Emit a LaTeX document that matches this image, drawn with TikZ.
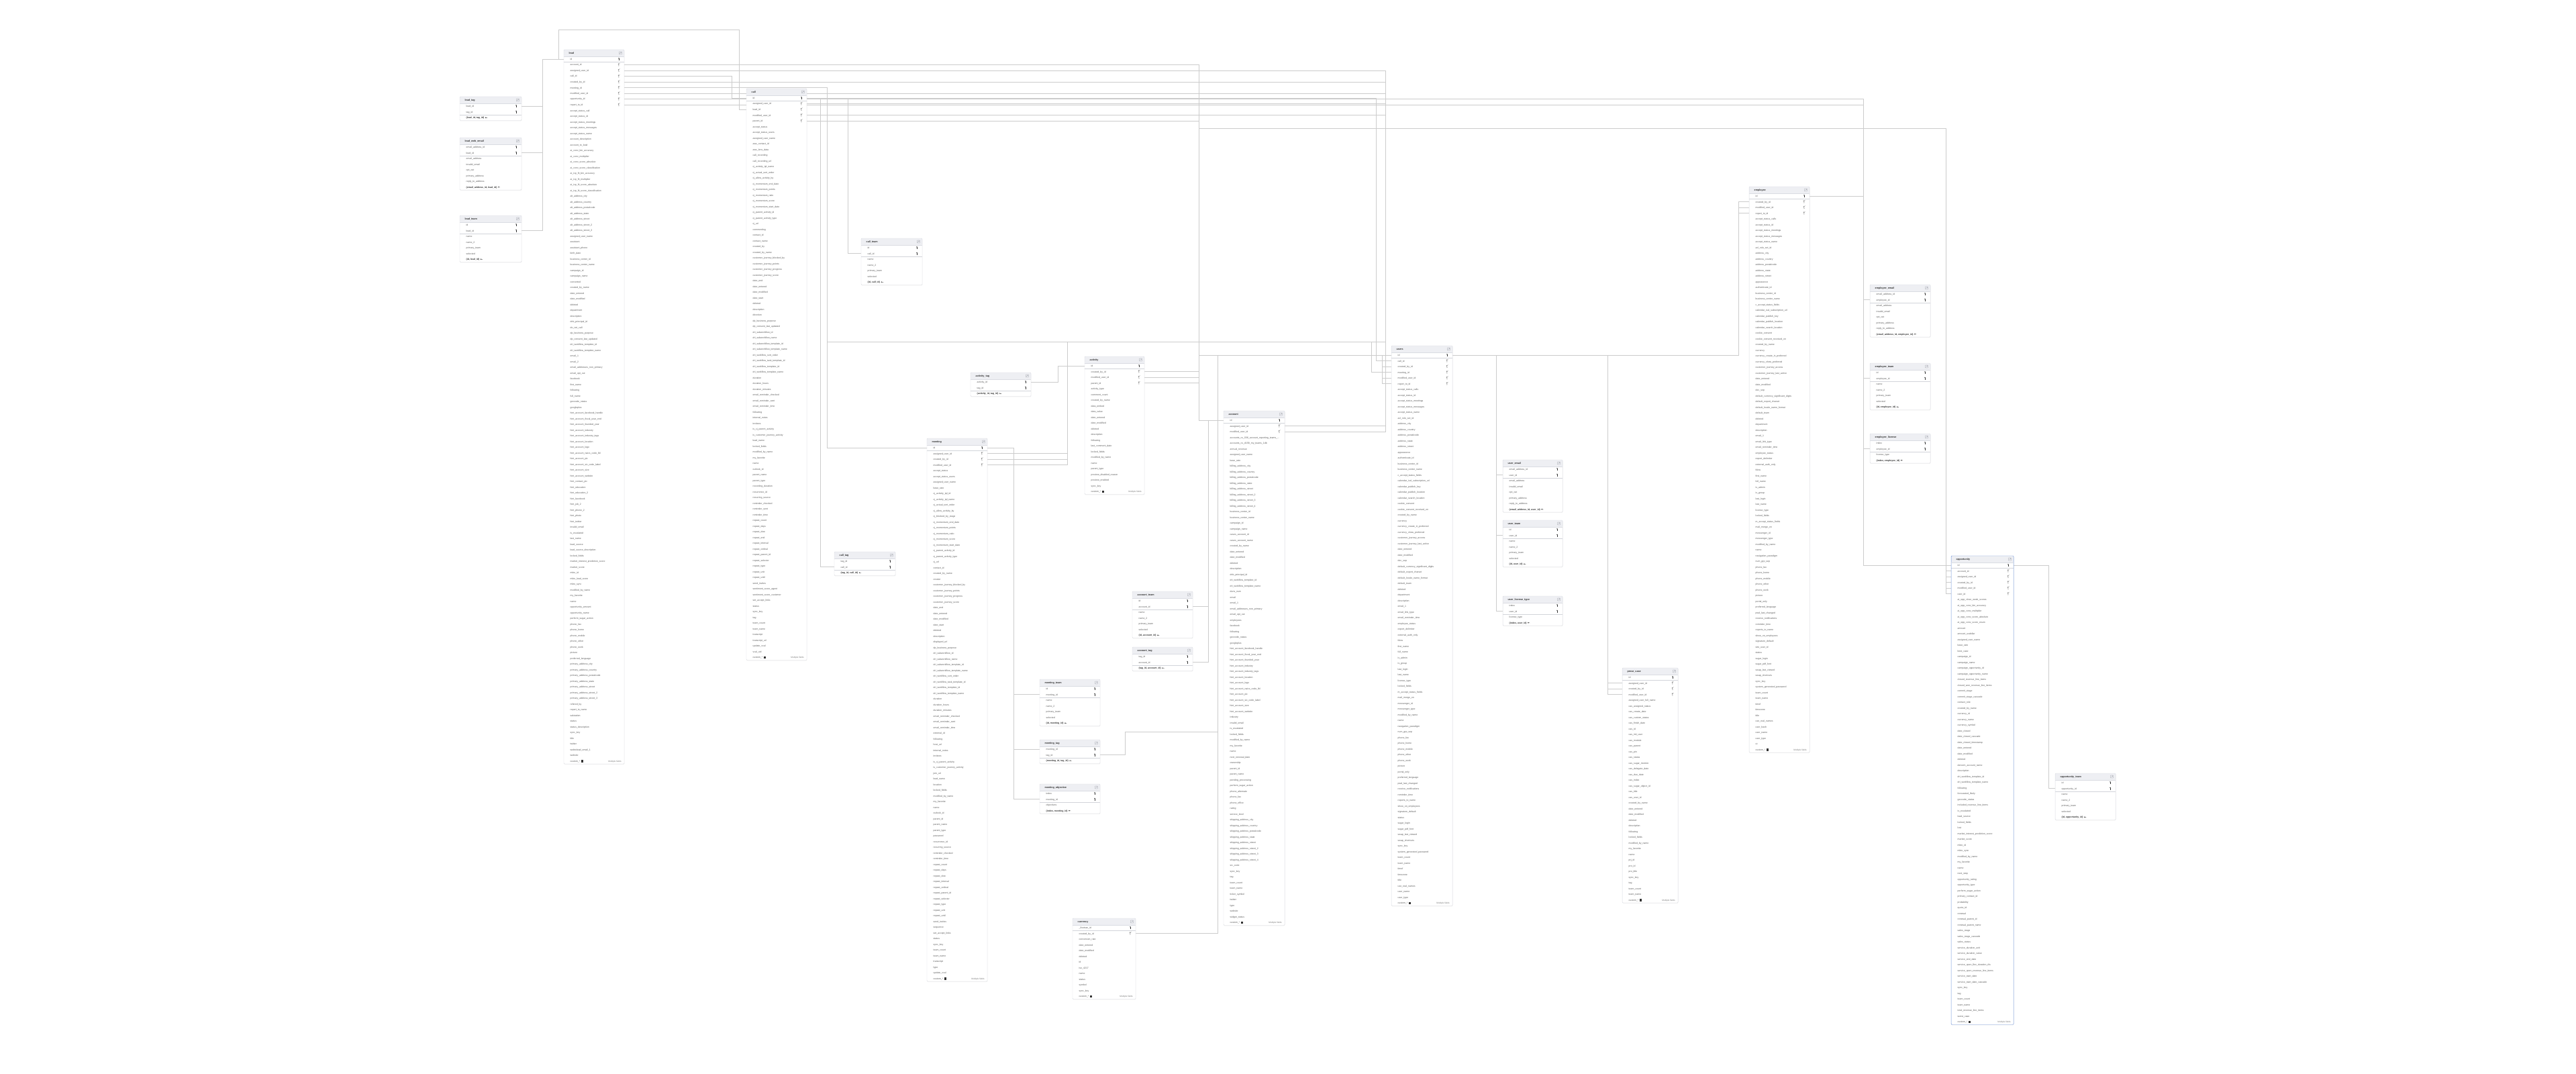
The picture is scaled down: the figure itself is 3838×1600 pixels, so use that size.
\documentclass[tikz,border=0pt]{standalone}
\usepackage{fontspec}
\setmainfont{Liberation Sans}
\usetikzlibrary{shadows,calc}
\pgfdeclarelayer{conn}
\pgfdeclarelayer{background}
\pgfsetlayers{conn,background,main}
\definecolor{hdrfill}{HTML}{EEEFF3}
\definecolor{framec}{HTML}{DADCE2}
\definecolor{txtc}{HTML}{5A5A5A}
\definecolor{ttlc}{HTML}{2E2E2E}
\definecolor{connc}{HTML}{CCCCCC}
\definecolor{sepc}{HTML}{D2D4DA}
\definecolor{keyd}{HTML}{333333}
\definecolor{keyl}{HTML}{777777}
\definecolor{iconc}{HTML}{9A9DA6}
\definecolor{blueb}{HTML}{6E91D8}
\tikzset{
  rowtxt/.style={font=\fontsize{3.5}{4}\selectfont, text=txtc, inner sep=0},
  keytxt/.style={font=\fontsize{3.5}{4}\selectfont\bfseries, text=ttlc, inner sep=0},
  ttltxt/.style={font=\fontsize{3.7}{4}\selectfont\bfseries, text=ttlc, inner sep=0},
  multtxt/.style={font=\fontsize{3.2}{4}\selectfont, text=txtc!80, inner sep=0},
  cn/.style={draw=connc, line width=0.6pt},
}
% ---------- table macros ----------
\newcommand\erBeg[5][90]{% [width]{id}{title}{x}{y}
  \xdef\erW{#1}\xdef\erId{#2}\xdef\erX{#4}\xdef\erY{#5}%
  \fill[hdrfill, rounded corners=1.2pt] (#4,#5+10) -- (#4,#5) -- (#4+#1,#5) -- (#4+#1,#5+10) -- cycle;
  \node[ttltxt, anchor=base west] (#2) at (#4+7.5,#5+6.3) {#3};
  \draw[iconc, line width=0.3pt, rounded corners=0.4pt] (#4+#1-7.6,#5+3) rectangle (#4+#1-3.6,#5+7);
  \draw[iconc, line width=0.25pt] (#4+#1-6.8,#5+6.2) -- (#4+#1-4.4,#5+3.8) (#4+#1-5.6,#5+3.8) -- (#4+#1-4.4,#5+3.8) -- (#4+#1-4.4,#5+5);
  \pgfmathsetmacro\erT{#5+10}\xdef\erC{\erT}%
  \xdef\erN{0}%
}
\newcommand\erBase[2]{%
  \pgfmathtruncatemacro\erT{\erN+1}\xdef\erN{\erT}%
  \coordinate (\erId-\erN-w) at (\erX,\erC+4.25);
  \coordinate (\erId-\erN-e) at (\erX+\erW,\erC+4.25);
  #2%
  \pgfmathsetmacro\erT{\erC+8.5}\xdef\erC{\erT}%
}
\newcommand\erPKicon{%
  \fill[keyd] (\erX+\erW-8,\erC+2.9) circle (0.85);
  \draw[keyd, line width=0.45pt] (\erX+\erW-8,\erC+3.4) -- (\erX+\erW-8,\erC+6.2) (\erX+\erW-8,\erC+5.4) -- (\erX+\erW-7.2,\erC+5.4);}
\newcommand\erFKicon{%
  \draw[keyl, line width=0.3pt] (\erX+\erW-8.3,\erC+2.9) circle (0.75);
  \draw[keyl, line width=0.4pt] (\erX+\erW-8.3,\erC+3.7) -- (\erX+\erW-8.3,\erC+6.2) (\erX+\erW-8.3,\erC+5.4) -- (\erX+\erW-7.5,\erC+5.4)
     (\erX+\erW-7.3,\erC+2.0) -- (\erX+\erW-6.5,\erC+1.6);}
\newcommand\erP[1]{\erBase{#1}{\node[rowtxt, anchor=base west] at (\erX+9.5,\erC+5.5) {#1};\erPKicon}}
\newcommand\erF[1]{\erBase{#1}{\node[rowtxt, anchor=base west] at (\erX+9.5,\erC+5.5) {#1};\erFKicon}}
\newcommand\erR[1]{\erBase{#1}{\node[rowtxt, anchor=base west] at (\erX+9.5,\erC+5.5) {#1};}}
\newcommand\erRs[1]{\foreach \erI in {#1}{\erR{\erI}}}
\newcommand\erK[1]{\erBase{#1}{\node[keytxt, anchor=base west] (erkx) at (\erX+9.5,\erC+5.5) {#1};
   \draw[keyd, line width=0.3pt] ($(erkx.base east)+(2.2,-1.3)$) circle (0.6) ($(erkx.base east)+(2.8,-1.3)$) -- ++(1.4,0) -- ++(0,0.6);}}
\newcommand\erM{\erBase{}{\node[rowtxt, anchor=base west] (erkx) at (\erX+9.5,\erC+5.5) {custom\_*};
   \draw[keyd, line width=0.25pt] ($(erkx.base east)+(1.5,-2.6)$) rectangle ++(2.4,2.4) ($(erkx.base east)+(2.7,-2.6)$) -- ++(0,2.4) ($(erkx.base east)+(1.5,-1.4)$) -- ++(2.4,0);
   \node[multtxt, anchor=base east] at (\erX+\erW-4,\erC+5.5) {Multiple fields};}}
\newcommand\erSep{\draw[sepc, line width=0.4pt] (\erX,\erC) -- (\erX+\erW,\erC);}
\newcommand\erEnd[1][framec]{%
  \begin{pgfonlayer}{background}
  \fill[white, rounded corners=1.2pt, drop shadow={shadow xshift=0.3pt, shadow yshift=-0.9pt, opacity=0.12}] (\erX,\erY) rectangle (\erX+\erW,\erC);
  \end{pgfonlayer}
  \draw[#1, line width=0.45pt, rounded corners=1.2pt] (\erX,\erY) rectangle (\erX+\erW,\erC);
  \draw[framec, line width=0.35pt] (\erX,\erY+10) -- (\erX+\erW,\erY+10);
}
\begin{document}
\begin{tikzpicture}[x=1pt,y=-1pt]
\begin{pgfonlayer}{conn}
\fill[white] (0,0) rectangle (3838,1600);
\end{pgfonlayer}
\useasboundingbox (0,0) rectangle (3838,1600);

% ---- lead_tag ----
\erBeg[92]{lead_tag}{lead\_tag}{685}{144}
\erP{lead\_id}\erP{tag\_id}\erSep\erK{(lead\_id, tag\_id)}
\erEnd
% ---- lead_web_email ----
\erBeg[92]{lead_web_email}{lead\_web\_email}{685}{205}
\erP{email\_address\_id}\erP{lead\_id}\erSep
\erRs{email\_address,invalid\_email,opt\_out,primary\_address,reply\_to\_address}
\erK{(email\_address\_id, lead\_id)}
\erEnd
% ---- lead_team ----
\erBeg[92]{lead_team}{lead\_team}{685}{321}
\erP{id}\erP{lead\_id}\erSep
\erRs{name,name\_2,primary\_team,selected}\erK{(id, lead\_id)}
\erEnd
% ---- lead ----
\erBeg[90]{lead}{lead}{840}{74}
\erP{id}\erSep
\erF{account\_id}\erF{assigned\_user\_id}\erF{call\_id}\erF{created\_by\_id}\erF{meeting\_id}\erF{modified\_user\_id}\erF{opportunity\_id}\erF{report\_to\_id}
\erRs{accept\_status\_call,accept\_status\_id,accept\_status\_meetings,accept\_status\_messages,accept\_status\_name,%
account\_description,account\_to\_lead,ai\_conv\_bin\_accuracy,ai\_conv\_multiplier,ai\_conv\_score\_absolute,%
ai\_conv\_score\_classification,ai\_icp\_fit\_bin\_accuracy,ai\_icp\_fit\_multiplier,ai\_icp\_fit\_score\_absolute,%
ai\_icp\_fit\_score\_classification,alt\_address\_city,alt\_address\_country,alt\_address\_postalcode,%
alt\_address\_state,alt\_address\_street,alt\_address\_street\_2,alt\_address\_street\_3,assigned\_user\_name,%
assistant,assistant\_phone,birth\_date,business\_center\_id,business\_center\_name,%
campaign\_id,campaign\_name,converted,created\_by\_name,date\_entered,date\_modified,deleted,department,description,%
dnb\_principal\_id,do\_not\_call,dp\_business\_purpose,dp\_consent\_last\_updated,dri\_workflow\_template\_id,%
dri\_workflow\_template\_name,email\_1,email\_2,email\_addresses\_non\_primary,email\_opt\_out,facebook,first\_name,%
following,full\_name,geocode\_status,googleplus,hint\_account\_facebook\_handle,hint\_account\_fiscal\_year\_end,%
hint\_account\_founded\_year,hint\_account\_industry,hint\_account\_industry\_tags,hint\_account\_location,%
hint\_account\_logo,hint\_account\_naics\_code\_lbl,hint\_account\_pic,hint\_account\_sic\_code\_label,%
hint\_account\_size,hint\_account\_website,hint\_contact\_pic,hint\_education,hint\_education\_2,hint\_facebook,%
hint\_job\_2,hint\_phone\_2,hint\_photo,hint\_twitter,invalid\_email,is\_escalated,last\_name,lead\_source,%
lead\_source\_description,locked\_fields,market\_interest\_prediction\_score,market\_score,mkto\_id,%
mkto\_lead\_score,mkto\_sync,modified\_by\_name,my\_favorite,name,opportunity\_amount,opportunity\_name,%
perform\_sugar\_action,phone\_fax,phone\_home,phone\_mobile,phone\_other,phone\_work,picture,preferred\_language,%
primary\_address\_city,primary\_address\_country,primary\_address\_postalcode,primary\_address\_state,%
primary\_address\_street,primary\_address\_street\_2,primary\_address\_street\_3,refered\_by,report\_to\_name,%
salutation,status,status\_description,sync\_key,title,twitter,webtolead\_email\_1,website}
\erM
\erEnd
% ---- call ----
\erBeg[90]{call}{call}{1112}{132}
\erP{id}\erSep
\erF{assigned\_user\_id}\erF{lead\_id}\erF{modified\_user\_id}\erF{parent\_id}
\erRs{accept\_status,accept\_status\_users,assigned\_user\_name,aws\_contact\_id,aws\_lens\_data,%
call\_recording,call\_recording\_url,cj\_activity\_tpl\_name,cj\_actual\_sort\_order,cj\_allow\_activity\_by,%
cj\_momentum\_end\_date,cj\_momentum\_points,cj\_momentum\_ratio,cj\_momentum\_score,cj\_momentum\_start\_date,%
cj\_parent\_activity\_id,cj\_parent\_activity\_type,%
cj\_url,commentlog,contact\_id,contact\_name,created\_by,created\_by\_name,customer\_journey\_blocked\_by,%
customer\_journey\_points,customer\_journey\_progress,customer\_journey\_score,date\_end,date\_entered,%
date\_modified,date\_start,deleted,description,direction,dp\_business\_purpose,dp\_consent\_last\_updated,%
dri\_subworkflow\_id,dri\_subworkflow\_name,dri\_subworkflow\_template\_id,dri\_subworkflow\_template\_name,%
dri\_workflow\_sort\_order,dri\_workflow\_task\_template\_id,dri\_workflow\_template\_id,dri\_workflow\_template\_name,%
duration,duration\_hours,duration\_minutes,email\_reminder\_checked,email\_reminder\_sent,email\_reminder\_time,%
following,internal\_notes,invitees,is\_cj\_parent\_activity,is\_customer\_journey\_activity,lead\_name,%
locked\_fields,modified\_by\_name,my\_favorite,name,outlook\_id,parent\_name,parent\_type,recording\_duration,%
recurrence\_id,recurring\_source,reminder\_checked,reminder\_sent,reminder\_time,repeat\_count,repeat\_days,%
repeat\_dow,repeat\_end,repeat\_interval,repeat\_ordinal,repeat\_parent\_id,repeat\_selector,repeat\_type,%
repeat\_unit,repeat\_until,send\_invites,sentiment\_score\_agent,sentiment\_score\_customer,set\_accept\_links,%
status,sync\_key,tag,team\_count,team\_name,transcript,transcript\_url,update\_vcal,vcal\_uid}
\erM
\erEnd
% ---- call_team ----
\erBeg[91]{call_team}{call\_team}{1283}{355}
\erP{id}\erP{call\_id}\erSep
\erRs{name,name\_2,primary\_team,selected}\erK{(id, call\_id)}
\erEnd
% ---- activity_tag ----
\erBeg[90]{activity_tag}{activity\_tag}{1446}{555}
\erP{activity\_id}\erP{tag\_id}\erSep\erK{(activity\_id, tag\_id)}
\erEnd
% ---- call_tag ----
\erBeg[91]{call_tag}{call\_tag}{1243}{822}
\erP{tag\_id}\erP{call\_id}\erSep\erK{(tag\_id, call\_id)}
\erEnd
% ---- meeting ----
\erBeg[90]{meeting}{meeting}{1381}{653}
\erP{id}\erSep
\erF{assigned\_user\_id}\erF{created\_by\_id}\erF{modified\_user\_id}
\erRs{accept\_status,accept\_status\_users,assigned\_user\_name,base\_rate,cj\_activity\_tpl\_id,%
cj\_activity\_tpl\_name,cj\_actual\_sort\_order,cj\_allow\_activity\_by,cj\_blocked\_by\_stage,%
cj\_momentum\_end\_date,cj\_momentum\_points,cj\_momentum\_ratio,cj\_momentum\_score,cj\_momentum\_start\_date,%
cj\_parent\_activity\_id,cj\_parent\_activity\_type,cj\_url,contact\_id,created\_by\_name,%
creator,customer\_journey\_blocked\_by,customer\_journey\_points,customer\_journey\_progress,customer\_journey\_score,%
date\_end,date\_entered,date\_modified,date\_start,deleted,description,displayed\_url,dp\_business\_purpose,%
dri\_subworkflow\_id,dri\_subworkflow\_name,dri\_subworkflow\_template\_id,dri\_subworkflow\_template\_name,%
dri\_workflow\_sort\_order,dri\_workflow\_task\_template\_id,dri\_workflow\_template\_id,dri\_workflow\_template\_name,%
duration,duration\_hours,duration\_minutes,email\_reminder\_checked,email\_reminder\_sent,email\_reminder\_time,%
external\_id,following,host\_url,internal\_notes,invitees,is\_cj\_parent\_activity,is\_customer\_journey\_activity,%
join\_url,lead\_name,location,locked\_fields,modified\_by\_name,my\_favorite,name,outlook\_id,parent\_id,%
parent\_name,parent\_type,password,recurrence\_id,recurring\_source,reminder\_checked,reminder\_time,%
repeat\_count,repeat\_days,repeat\_dow,repeat\_interval,repeat\_ordinal,repeat\_parent\_id,repeat\_selector,%
repeat\_type,repeat\_unit,repeat\_until,send\_invites,sequence,set\_accept\_links,status,sync\_key,team\_count,%
team\_name,transcript,type,update\_vcal}
\erM
\erEnd
% ---- activity ----
\erBeg[89]{activity}{activity}{1616}{531}
\erP{id}\erSep
\erF{created\_by\_id}\erF{modified\_user\_id}\erF{parent\_id}
\erRs{activity\_type,comment\_count,created\_by\_name,data\_embed,data\_value,date\_entered,%
date\_modified,deleted,description,following,last\_comment\_date,locked\_fields,%
modified\_by\_name,name,parent\_type,preview\_disabled\_reason,preview\_enabled,sync\_key}
\erM
\erEnd
% ---- account ----
\erBeg[91]{account}{account}{1823}{612}
\erP{id}\erSep
\erF{assigned\_user\_id}\erF{modified\_user\_id}
\erR{accounts\_cs\_036\_account\_reporting\_teams\_...}
\erRs{accounts\_cs\_d158\_my\_teams\_1db,annual\_revenue,%
assigned\_user\_name,base\_rate,billing\_address\_city,billing\_address\_country,billing\_address\_postalcode,%
billing\_address\_state,billing\_address\_street,billing\_address\_street\_2,billing\_address\_street\_3,%
billing\_address\_street\_4,business\_center\_id,business\_center\_name,campaign\_id,campaign\_name,%
cases\_account\_id,cases\_account\_name,created\_by\_name,date\_entered,date\_modified,deleted,description,%
dnb\_principal\_id,dri\_workflow\_template\_id,dri\_workflow\_template\_name,duns\_num,email,email\_1,%
email\_addresses\_non\_primary,email\_opt\_out,employees,facebook,following,geocode\_status,googleplus,%
hint\_account\_facebook\_handle,hint\_account\_fiscal\_year\_end,hint\_account\_founded\_year,hint\_account\_industry,%
hint\_account\_industry\_tags,hint\_account\_location,hint\_account\_logo,hint\_account\_naics\_code\_lbl,%
hint\_account\_pic,hint\_account\_sic\_code\_label,hint\_account\_size,hint\_account\_website,industry,%
invalid\_email,is\_escalated,locked\_fields,modified\_by\_name,my\_favorite,name,next\_renewal\_date,ownership,%
parent\_id,parent\_name,pending\_processing,perform\_sugar\_action,phone\_alternate,phone\_fax,phone\_office,%
rating,service\_level,shipping\_address\_city,shipping\_address\_country,shipping\_address\_postalcode,%
shipping\_address\_state,shipping\_address\_street,shipping\_address\_street\_2,shipping\_address\_street\_3,%
shipping\_address\_street\_4,sic\_code,sync\_key,tag,team\_count,team\_name,ticker\_symbol,twitter,type,%
website,widget\_status}
\erM
\erEnd
% ---- account_team ----
\erBeg[90]{account_team}{account\_team}{1687}{881}
\erP{id}\erP{account\_id}\erSep
\erRs{name,name\_2,primary\_team,selected}\erK{(id, account\_id)}
\erEnd
% ---- account_tag ----
\erBeg[90]{account_tag}{account\_tag}{1687}{964}
\erP{tag\_id}\erP{account\_id}\erSep\erK{(tag\_id, account\_id)}
\erEnd
% ---- meeting_team ----
\erBeg[90]{meeting_team}{meeting\_team}{1549}{1012}
\erP{id}\erP{meeting\_id}\erSep
\erRs{name,name\_2,primary\_team,selected}\erK{(id, meeting\_id)}
\erEnd
% ---- meeting_tag ----
\erBeg[90]{meeting_tag}{meeting\_tag}{1549}{1102}
\erP{meeting\_id}\erP{tag\_id}\erSep\erK{(meeting\_id, tag\_id)}
\erEnd
% ---- meeting_objective ----
\erBeg[90]{meeting_objective}{meeting\_objective}{1549}{1168}
\erP{index}\erP{meeting\_id}\erSep\erR{objectives}\erK{(index, meeting\_id)}
\erEnd
% ---- currency ----
\erBeg[94]{currency}{currency}{1598}{1368}
\erP{\_fivetran\_id}\erSep\erF{created\_by\_id}
\erRs{conversion\_rate,date\_entered,date\_modified,deleted,id,iso\_4217,name,status,symbol,sync\_key}
\erM
\erEnd
% ---- users ----
\erBeg[91]{users}{users}{2073}{515}
\erP{id}\erSep
\erF{call\_id}\erF{created\_by\_id}\erF{meeting\_id}\erF{modified\_user\_id}\erF{report\_to\_id}
\erRs{accept\_status\_calls,accept\_status\_id,accept\_status\_meetings,accept\_status\_messages,accept\_status\_name,%
acl\_role\_set\_id,address\_city,address\_country,address\_postalcode,address\_state,address\_street,%
appearance,authenticate\_id,business\_center\_id,business\_center\_name,c\_accept\_status\_fields,%
calendar\_ical\_subscription\_url,calendar\_publish\_key,calendar\_publish\_location,calendar\_search\_location,%
cookie\_consent,cookie\_consent\_received\_on,%
created\_by\_name,currency,currency\_create\_in\_preferred,currency\_show\_preferred,customer\_journey\_access,%
customer\_journey\_last\_active,date\_entered,date\_modified,dec\_sep,default\_currency\_significant\_digits,%
default\_export\_charset,default\_locale\_name\_format,default\_team,deleted,department,description,email\_1,%
email\_link\_type,email\_reminder\_time,employee\_status,export\_delimiter,external\_auth\_only,%
fdow,first\_name,full\_name,is\_admin,is\_group,last\_login,last\_name,license\_type,locked\_fields,%
m\_accept\_status\_fields,mail\_merge\_on,messenger\_id,messenger\_type,modified\_by\_name,name,%
navigation\_paradigm,num\_grp\_sep,phone\_fax,phone\_home,phone\_mobile,phone\_other,phone\_work,picture,%
portal\_only,preferred\_language,pwd\_last\_changed,receive\_notifications,reminder\_time,reports\_to\_name,%
show\_on\_employees,signature\_default,status,sugar\_login,sugar\_pdf\_font,swap\_last\_viewed,swap\_shortcuts,%
sync\_key,system\_generated\_password,team\_count,team\_name,timef,timezone,title,use\_real\_names,user\_name,user\_type}
\erM
\erEnd
% ---- user_email ----
\erBeg[89]{user_email}{user\_email}{2239}{685}
\erP{email\_address\_id}\erP{user\_id}\erSep
\erRs{email\_address,invalid\_email,opt\_out,primary\_address,reply\_to\_address}
\erK{(email\_address\_id, user\_id)}
\erEnd
% ---- user_team ----
\erBeg[89]{user_team}{user\_team}{2239}{775}
\erP{id}\erP{user\_id}\erSep
\erRs{name,name\_2,primary\_team,selected}\erK{(id, user\_id)}
\erEnd
% ---- user_license_type ----
\erBeg[89]{user_license_type}{user\_license\_type}{2239}{888}
\erP{index}\erP{user\_id}\erSep\erR{license\_type}\erK{(index, user\_id)}
\erEnd
% ---- pmse_case ----
\erBeg[83]{pmse_case}{pmse\_case}{2417}{995}
\erP{id}\erSep
\erF{assigned\_user\_id}\erF{created\_by\_id}\erF{modified\_user\_id}
\erRs{assigned\_user\_full\_name,cas\_assigned\_status,cas\_create\_date,cas\_custom\_status,cas\_finish\_date,%
cas\_id,cas\_init\_user,cas\_module,cas\_parent,cas\_pin,cas\_status,cas\_sugar\_module,%
cas\_delegate\_date,cas\_due\_date,cas\_index,cas\_sugar\_object\_id,cas\_title,cas\_user\_id,created\_by\_name,%
date\_entered,date\_modified,deleted,description,following,locked\_fields,modified\_by\_name,my\_favorite,%
name,prj\_id,pro\_id,pro\_title,sync\_key,tag,team\_count,team\_name}
\erM
\erEnd
% ---- employee ----
\erBeg[90]{employee}{employee}{2606}{278}
\erP{id}\erSep
\erF{created\_by\_id}\erF{modified\_user\_id}\erF{report\_to\_id}
\erRs{accept\_status\_calls,accept\_status\_id,accept\_status\_meetings,accept\_status\_messages,accept\_status\_name,%
acl\_role\_set\_id,address\_city,address\_country,address\_postalcode,address\_state,address\_street,%
appearance,authenticate\_id,business\_center\_id,business\_center\_name,c\_accept\_status\_fields,%
calendar\_ical\_subscription\_url,calendar\_publish\_key,calendar\_publish\_location,calendar\_search\_location,%
cookie\_consent,cookie\_consent\_received\_on,created\_by\_name,currency,currency\_create\_in\_preferred,%
currency\_show\_preferred,customer\_journey\_access,customer\_journey\_last\_active,date\_entered,date\_modified,%
dec\_sep,default\_currency\_significant\_digits,default\_export\_charset,default\_locale\_name\_format,%
default\_team,deleted,department,description,email\_1,email\_link\_type,email\_reminder\_time,%
employee\_status,export\_delimiter,external\_auth\_only,%
fdow,first\_name,full\_name,is\_admin,is\_group,last\_login,last\_name,license\_type,locked\_fields,%
m\_accept\_status\_fields,mail\_merge\_on,messenger\_id,messenger\_type,modified\_by\_name,name,%
navigation\_paradigm,num\_grp\_sep,phone\_fax,phone\_home,phone\_mobile,phone\_other,phone\_work,picture,%
portal\_only,preferred\_language,pwd\_last\_changed,receive\_notifications,reminder\_time,reports\_to\_name,%
show\_on\_employees,signature\_default,site\_user\_id,status,sugar\_login,sugar\_pdf\_font,swap\_last\_viewed,%
swap\_shortcuts,sync\_key,system\_generated\_password,team\_count,team\_name,timef,timezone,title,%
use\_real\_names,user\_hash,user\_name,user\_type,ut}
\erM
\erEnd
% ---- employee_email ----
\erBeg[90]{employee_email}{employee\_email}{2786}{424}
\erP{email\_address\_id}\erP{employee\_id}\erSep
\erRs{email\_address,invalid\_email,opt\_out,primary\_address,reply\_to\_address}
\erK{(email\_address\_id, employee\_id)}
\erEnd
% ---- employee_team ----
\erBeg[90]{employee_team}{employee\_team}{2786}{541}
\erP{id}\erP{employee\_id}\erSep
\erRs{name,name\_2,primary\_team,selected}\erK{(id, employee\_id)}
\erEnd
% ---- employee_license ----
\erBeg[90]{employee_license}{employee\_license}{2786}{646}
\erP{index}\erP{employee\_id}\erSep\erR{license\_type}\erK{(index, employee\_id)}
\erEnd
% ---- opportunity (highlighted) ----
\erBeg[93]{opportunity}{opportunity}{2907}{828}
\erP{id}\erSep
\erF{account\_id}\erF{assigned\_user\_id}\erF{created\_by\_id}\erF{modified\_user\_id}\erF{user\_id}
\erRs{ai\_opp\_close\_week\_scores,ai\_opp\_conv\_bin\_accuracy,ai\_opp\_conv\_multiplier,ai\_opp\_conv\_score\_absolute,%
ai\_opp\_conv\_score\_enum,amount,amount\_usdollar,assigned\_user\_name,base\_rate,best\_case,campaign\_id,%
campaign\_name,campaign\_opportunity\_id,campaign\_opportunity\_name,closed\_revenue\_line\_items,%
closed\_won\_revenue\_line\_items,commit\_stage,commit\_stage\_cascade,contact\_role,created\_by\_name,currency\_id,%
currency\_name,currency\_symbol,date\_closed,date\_closed\_cascade,date\_closed\_timestamp,date\_entered,%
date\_modified,deleted,denorm\_account\_name,description,dri\_workflow\_template\_id,dri\_workflow\_template\_name,%
following,forecasted\_likely,geocode\_status,included\_revenue\_line\_items,is\_escalated,lead\_source,%
locked\_fields,lost,market\_interest\_prediction\_score,market\_score,mkto\_id,mkto\_sync,modified\_by\_name,%
my\_favorite,name,next\_step,opportunity\_rating,opportunity\_type,perform\_sugar\_action,primary\_contact\_id,%
probability,quote\_id,renewal,renewal\_parent\_id,renewal\_parent\_name,sales\_stage,sales\_stage\_cascade,%
sales\_status,service\_duration\_unit,service\_duration\_value,service\_end\_date,service\_open\_flex\_duration\_rlis,%
service\_open\_revenue\_line\_items,service\_start\_date,service\_start\_date\_cascade,sync\_key,tag,team\_count,%
team\_name,total\_revenue\_line\_items,worst\_case}
\erM
\erEnd[blueb]
% ---- opportunity_team ----
\erBeg[90]{opportunity_team}{opportunity\_team}{3062}{1152}
\erP{id}\erP{opportunity\_id}\erSep
\erRs{name,name\_2,primary\_team,selected}\erK{(id, opportunity\_id)}
\erEnd

% ---------- connectors ----------
\begin{pgfonlayer}{conn}
% children -> parents
\draw[cn] (lead_tag-1-e) -- ++(31,0) |- (lead-1-w);
\draw[cn] (lead_web_email-2-e) -- ++(31,0) |- (lead-1-w);
\draw[cn] (lead_team-2-e) -- ++(31,0) |- (lead-1-w);
\draw[cn] (call_team-2-w) -- ++(-20,0) |- (call-1-e);
\draw[cn] (call_tag-2-w) -- ++(-21,0) |- (call-1-e);
\draw[cn] (activity_tag-1-e) -- ++(40,0) |- (activity-1-w);
\draw[cn] (meeting_team-2-w) -- ++(-39,0) |- (meeting-1-e);
\draw[cn] (meeting_tag-1-w) -- ++(-39,0) |- (meeting-1-e);
\draw[cn] (meeting_objective-2-w) -- ++(-39,0) |- (meeting-1-e);
\draw[cn] (meeting_tag-2-e) -- ++(37.7,0) |- (1814,1090);
\draw[cn] (account_team-2-e) -- ++(23,0) |- (account-1-w);
\draw[cn] (account_tag-2-e) -- ++(23,0) |- (account-1-w);
\draw[cn] (users-1-e) -- ++(65,0) |- (user_email-2-w);
\draw[cn] (users-1-e) -- ++(65,0) |- (user_team-2-w);
\draw[cn] (users-1-e) -- ++(65,0) |- (user_license_type-2-w);
\draw[cn] (employee-1-e) -- ++(80,0) |- (employee_email-2-w);
\draw[cn] (employee-1-e) -- ++(80,0) |- (employee_team-2-w);
\draw[cn] (employee-1-e) -- ++(80,0) |- (employee_license-2-w);
\draw[cn] (opportunity_team-2-w) -- ++(-10,0) |- (opportunity-1-e);
% lead foreign keys
\draw[cn] (lead-2-e) -| ($(account-1-w)+(-37,0)$) -- (account-1-w);
\draw[cn] (lead-3-e) -| ($(users-1-w)+(-9,0)$) -- (users-1-w);
\draw[cn] (lead-4-e) -| ($(call-1-w)+(-22,0)$) -- (call-1-w);
\draw[cn] (lead-5-e) -| ($(users-1-w)+(-9,0)$) -- (users-1-w);
\draw[cn] (lead-6-e) -| ($(meeting-1-w)+(-149,0)$) -- (meeting-1-w);
\draw[cn] (lead-7-e) -| ($(users-1-w)+(-9,0)$) -- (users-1-w);
\draw[cn] (lead-8-e) -| ($(opportunity-1-w)+(-131,0)$) -- (opportunity-1-w);
\draw[cn] (lead-9-e) -| ($(employee-1-e)+(80,0)$) -- (employee-1-e);
% call foreign keys
\draw[cn] (call-3-w) -- ++(-11,0) |- (832,44) |- (lead-1-w);
\draw[cn] (call-2-e) -| ($(users-1-w)+(-9,0)$) -- (users-1-w);
\draw[cn] (call-4-e) -| ($(users-1-w)+(-9,0)$) -- (users-1-w);
\draw[cn] (call-5-e) -| ($(account-1-w)+(-37,0)$) -- (account-1-w);
% activity foreign keys
\draw[cn] (activity-2-e) -- ++(81,0) |- (users-1-w);
\draw[cn] (activity-3-e) -- ++(81,0) |- (users-1-w);
\draw[cn] (activity-4-e) -- ++(81,0) |- (account-1-w);
% meeting foreign keys
\draw[cn] (meeting-2-e) -- ++(119,0) |- (2064,509) |- (users-1-w);
\draw[cn] (meeting-3-e) -- ++(119,0) |- (2064,509) |- (users-1-w);
\draw[cn] (meeting-4-e) -- ++(119,0) |- (2064,509) |- (users-1-w);
% account foreign keys
\draw[cn] (account-2-e) -| ($(users-1-w)+(-9,0)$) -- (users-1-w);
\draw[cn] (account-3-e) -| ($(users-1-w)+(-9,0)$) -- (users-1-w);
% currency
\draw[cn] (currency-2-e) -- ++(122,0) |- (users-1-w);
% users foreign keys
\draw[cn] (users-2-w) -- ++(-23,0) |- (call-1-e);
\draw[cn] (users-3-w) -- ++(-14,0) |- (users-1-w);
\draw[cn] (users-4-w) -- ++(-30,0) |- (1232,509) |- (meeting-1-w);
\draw[cn] (users-5-w) -- ++(-14,0) |- (users-1-w);
\draw[cn] (users-6-w) -- ++(-14,0) |- (users-1-w);
% employee foreign keys
\draw[cn] (employee-2-w) -- ++(-16,0) |- (users-1-e);
\draw[cn] (employee-3-w) -- ++(-16,0) |- (users-1-e);
\draw[cn] (employee-4-w) -- ++(-16,0) |- (users-1-e);
% pmse_case foreign keys
\draw[cn] (pmse_case-2-w) -- ++(-22,0) |- (users-1-e);
\draw[cn] (pmse_case-3-w) -- ++(-22,0) |- (users-1-e);
\draw[cn] (pmse_case-4-w) -- ++(-22,0) |- (users-1-e);
% opportunity foreign keys
\draw[cn] (opportunity-2-w) -- ++(-8,0) |- (1786,191) -- ($(account-1-w)+(-37,0)$) -- (account-1-w);
\draw[cn] (opportunity-3-w) -- ++(-8,0) |- (2064,191) |- (users-1-w);
\draw[cn] (opportunity-4-w) -- ++(-8,0) |- (2064,191) |- (users-1-w);
\draw[cn] (opportunity-5-w) -- ++(-8,0) |- (2064,191) |- (users-1-w);
\draw[cn] (opportunity-6-w) -- ++(-8,0) |- (2064,191) |- (users-1-w);
\end{pgfonlayer}
\end{tikzpicture}
\end{document}
